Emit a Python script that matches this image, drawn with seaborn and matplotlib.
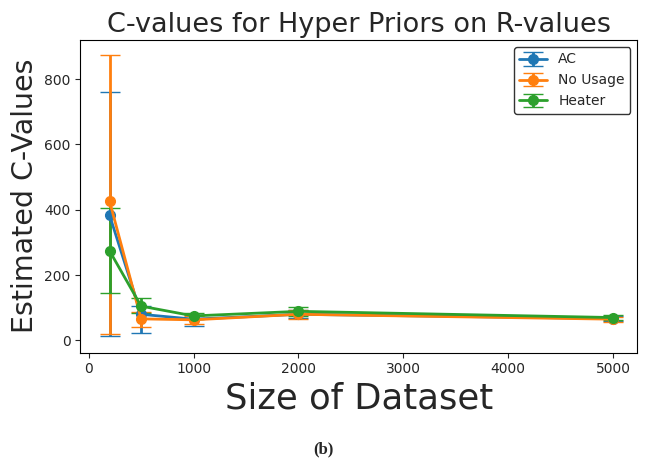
import numpy as np
import matplotlib
matplotlib.use("Agg")
import matplotlib.pyplot as plt
import seaborn as sns

# dataset sizes
sizes = [200, 500, 1000, 2000, 5000]

# estimated C-values (means) per series
ac_vals = [383, 80, 65, 80, 67]
no_usage_vals = [426, 66, 63, 80, 65]
heater_vals = [274, 105, 75, 89, 70]

# error bar extents (lower, upper)
ac_err_lo = [369, 58, 22, 12, 8]
ac_err_hi = [378, 25, 12, 12, 8]
no_usage_err_lo = [406, 26, 12, 14, 8]
no_usage_err_hi = [448, 20, 12, 14, 8]
heater_err_lo = [129, 22, 10, 13, 7]
heater_err_hi = [130, 25, 10, 13, 7]

series_names = ["AC", "No Usage", "Heater"]

sns.set_style("ticks")
colors = sns.color_palette("tab10", 3)

fig, ax = plt.subplots(figsize=(6.47, 4.7), dpi=100)

series = [
    (ac_vals, ac_err_lo, ac_err_hi),
    (no_usage_vals, no_usage_err_lo, no_usage_err_hi),
    (heater_vals, heater_err_lo, heater_err_hi),
]
for (vals, lo, hi), name, c in zip(series, series_names, colors):
    ax.errorbar(sizes, vals, yerr=[lo, hi], color=c, marker="o", markersize=7,
                linewidth=2, capsize=7, elinewidth=2, label=name)

ax.set_xlim(-80, 5230)
ax.set_ylim(-37, 920)
ax.set_xticks([0, 1000, 2000, 3000, 4000, 5000])
ax.set_yticks([0, 200, 400, 600, 800])
ax.tick_params(labelsize=10)
for s in ax.spines.values():
    s.set_visible(True)
    s.set_color("black")

ax.set_title("C-values for Hyper Priors on R-values", fontsize=19.5)
ax.set_xlabel("Size of Dataset", fontsize=25.5)
ax.set_ylabel("Estimated C-Values", fontsize=20.5)
ax.legend(loc="upper right", fontsize=10, framealpha=1, edgecolor="#333333")

fig.subplots_adjust(left=0.124, right=0.985, top=0.915, bottom=0.25)
fig.text(0.5, 0.035, "(b)", ha="center", fontsize=12, fontweight="bold",
         family="Liberation Serif")

fig.savefig("out.png", dpi=100)
